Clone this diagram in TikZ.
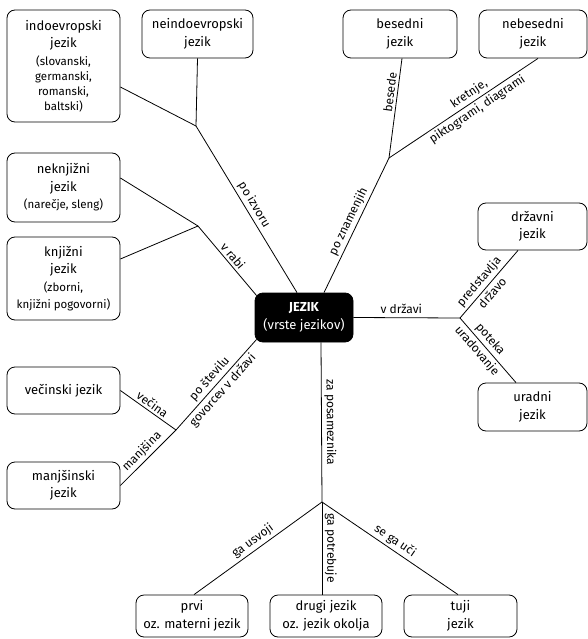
\documentclass[tikz,border=0pt]{standalone}
\usepackage{fontspec}
\setmainfont{Fira Sans}
\newcommand{\mali}{\fontsize{11.5}{15}\selectfont}

\begin{document}
\begin{tikzpicture}[x=1pt, y=-1pt, line width=0.8pt, every node/.style={font=\fontsize{12}{14}\selectfont}]
    \tikzstyle{vrsta}=[draw, rounded corners=8pt, align=center, inner sep=0pt, minimum width=112pt, minimum height=48pt, font=\fontsize{13}{17.5}\selectfont]
    \tikzstyle{glavni}=[vrsta, fill=black, text=white, minimum width=98pt, minimum height=49pt]
    \tikzstyle{oznaka}=[sloped, inner sep=2.5pt]

    \useasboundingbox (0,0) rectangle (588,639);

    % JEZIK
    \node[glavni] (J) at (304,317.5) {\textbf{JEZIK}\\(vrste jezikov)};

    % po izvoru
    \node[vrsta, minimum width=113pt, minimum height=112pt] (IZ-1) at (63.5,66) {indoevropski\\jezik\\\mali (slovanski,\\[-2.5pt]\mali germanski,\\[-2.5pt]\mali romanski,\\[-2.5pt]\mali baltski)};
    \node[vrsta, minimum width=111pt] (IZ-2) at (197.5,34) {neindoevropski\\jezik};

    % po znamenjih
    \node[vrsta, minimum width=114pt] (ZN-1) at (400,34) {besedni\\jezik};
    \node[vrsta, minimum width=108pt] (ZN-2) at (533,34) {nebesedni\\jezik};

    % v rabi
    \node[vrsta, minimum width=113pt, minimum height=69pt] (RA-1) at (63.5,187.5) {neknjižni\\jezik\\\mali (narečje, sleng)};
    \node[vrsta, minimum width=113pt, minimum height=83pt] (RA-2) at (63.5,278.5) {knjižni\\jezik\\\mali (zborni,\\\mali knjižni pogovorni)};

    % v drzavi
    \node[vrsta, minimum width=109pt, minimum height=47pt] (DR-1) at (532.5,226.5) {državni\\jezik};
    \node[vrsta, minimum width=109pt] (DR-2) at (532.5,407) {uradni\\jezik};

    % po stevilu govorcev
    \node[vrsta, minimum width=113pt, minimum height=47pt] (ST-1) at (63.5,390.5) {večinski jezik};
    \node[vrsta, minimum width=113pt, minimum height=47pt] (ST-2) at (63.5,485.5) {manjšinski\\jezik};

    % za posameznika
    \node[vrsta, minimum height=42pt] (PO-1) at (192,616) {prvi\\oz. materni jezik};
    \node[vrsta, minimum height=42pt] (PO-2) at (326,616) {drugi jezik\\oz. jezik okolja};
    \node[vrsta, minimum width=113pt, minimum height=42pt] (PO-3) at (460.5,616) {tuji\\jezik};

    % Junctions
    \coordinate (IZ) at (196,126);
    \coordinate (ZN) at (389,158);
    \coordinate (RA) at (198,226);
    \coordinate (DR) at (460,318);
    \coordinate (ST) at (176,430);
    \coordinate (PO) at (322,502);

    % Connect boxes to junctions
    \draw ([yshift=-21pt]IZ-1.east) -- (IZ);
    \draw (IZ-2.south) -- (IZ);
    \draw (ZN) -- node[oznaka, above, pos=0.65] {besede} ([xshift=2pt]ZN-1.south);
    \draw (ZN) -- node[oznaka, above, pos=0.57] {kretnje,} node[oznaka, below, pos=0.56] {piktogrami, diagrami} ([xshift=5pt]ZN-2.south);
    \draw ([yshift=9.5pt]RA-1.east) -- (RA);
    \draw ([yshift=19.5pt]RA-2.east) -- (RA);
    \draw (DR) -- node[oznaka, above, pos=0.45] {predstavlja} node[oznaka, below, pos=0.45] {državo} ([xshift=-14.5pt]DR-1.south);
    \draw (DR) -- node[oznaka, above, pos=0.42] {poteka} node[oznaka, below, pos=0.42] {uradovanje} ([xshift=-16.5pt]DR-2.north);
    \draw (ST-1.east) -- node[oznaka, above] {večina} (ST);
    \draw (ST-2.east) -- node[oznaka, above] {manjšina} (ST);
    \draw ([xshift=2pt]PO-1.north) -- node[oznaka, above] {ga usvoji} (PO);
    \draw (PO) -- node[oznaka, above] {ga potrebuje} ([xshift=-4pt]PO-2.north);
    \draw (PO) -- node[oznaka, above] {se ga uči} ([xshift=-2.5pt]PO-3.north);

    % Connect junctions to JEZIK
    \draw (IZ) -- node[oznaka, above] {po izvoru} ([xshift=-7pt]J.north);
    \draw ([xshift=20pt]J.north) -- node[oznaka, above] {po znamenjih} (ZN);
    \draw (RA) -- node[oznaka, above] {v rabi} ([shift={(2pt,-3pt)}]J.north west);
    \draw (J.east) -- node[above, pos=0.45] {v državi} (DR);
    \draw (ST) -- node[oznaka, above] {po številu} node[oznaka, below] {govorcev v državi} ([shift={(2pt,3pt)}]J.south west);
    \draw ([xshift=17pt]J.south) -- node[oznaka, above] {za posameznika} (PO);

\end{tikzpicture}
\end{document}
